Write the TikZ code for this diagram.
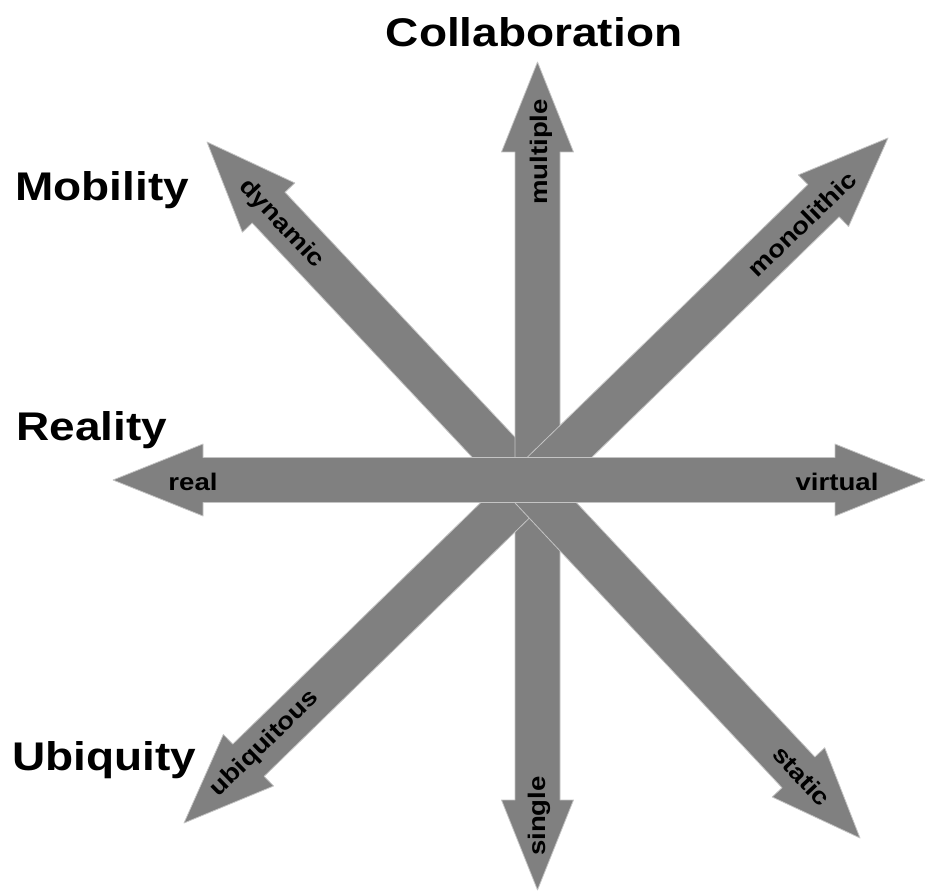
\documentclass[tikz,border=0pt]{standalone}
\usepackage{fontspec}
\setmainfont{Liberation Sans}
\usetikzlibrary{calc}
\definecolor{arrowgray}{HTML}{808080}
\definecolor{edgegray}{HTML}{C4C4C4}
\tikzset{
  blk/.style={fill=arrowgray, draw=edgegray, line width=0.8pt, line join=round},
  ttl/.style={font=\bfseries\fontsize{40}{44}\selectfont, inner sep=0pt, xscale=1.15},
  lbl/.style={font=\bfseries\fontsize{24}{26}\selectfont, inner sep=0pt},
}
% block arrow from tail #1 to tip #2
\newcommand\blockarr[2]{%
  \coordinate (bb) at ($(#2)!90pt!(#1)$);
  \draw[blk] ($(#1)!22.5pt!90:(#2)$) -- ($(bb)!22.5pt!90:(#2)$) -- ($(bb)!36pt!90:(#2)$)
    -- (#2) -- ($(bb)!36pt!-90:(#2)$) -- ($(bb)!22.5pt!-90:(#2)$) -- ($(#1)!22.5pt!-90:(#2)$) -- cycle;
}
\newcommand\lbltext[1]{\scalebox{1.15}[1]{#1}}
\begin{document}
\begin{tikzpicture}[x=1pt,y=-1pt]
\useasboundingbox (0,0) rectangle (925,893);
% centres and tips
\coordinate (c) at (537.5,480);
\coordinate (d) at (530,486);
\coordinate (tN) at (537.5,62);
\coordinate (tS) at (537.5,890);
\coordinate (tW) at (113,480);
\coordinate (tE) at (925,480);
\coordinate (tNW) at (207,142);
\coordinate (tNE) at (888,138);
\coordinate (tSW) at (184,823);
\coordinate (tSE) at (860,838);
% arrows, back to front
\blockarr{d}{tNW}
\blockarr{c}{tN}
\blockarr{d}{tNE}
\blockarr{c}{tS}
\blockarr{d}{tSW}
\blockarr{d}{tSE}
% horizontal double arrow
\coordinate (hl) at ($(tW)!90pt!(tE)$);
\coordinate (hr) at ($(tE)!90pt!(tW)$);
\draw[blk] (tW) -- ($(hl)!36pt!90:(tE)$) -- ($(hl)!22.5pt!90:(tE)$) -- ($(hr)!22.5pt!-90:(tW)$)
  -- ($(hr)!36pt!-90:(tW)$) -- (tE) -- ($(hr)!36pt!90:(tW)$) -- ($(hr)!22.5pt!90:(tW)$)
  -- ($(hl)!22.5pt!-90:(tE)$) -- ($(hl)!36pt!-90:(tE)$) -- cycle;
% arrow labels
\node[lbl] (real) at (193,482) {\lbltext{real}};
\node[lbl] (virtual) at (837,482) {\lbltext{virtual}};
\node[lbl, rotate=90] (multiple) at (541,152) {\lbltext{multiple}};
\node[lbl, rotate=90] (single) at (539,816) {\lbltext{single}};
\node[lbl, rotate=-46.8] (dynamic) at (281,224) {\lbltext{dynamic}};
\node[lbl, rotate=-46.8] (static) at (802,776) {\lbltext{static}};
\node[lbl, rotate=44.2] (monolithic) at (802,224) {\lbltext{monolithic}};
\node[lbl, rotate=44.2] (ubiquitous) at (265,744) {\lbltext{ubiquitous}};
% titles
\node[ttl, anchor=base] (collab) at (534,47) {Collaboration};
\node[ttl, anchor=base west] (mobility) at (15,201) {Mobility};
\node[ttl, anchor=base west] (reality) at (16,440) {Reality};
\node[ttl, anchor=base west] (ubiquity) at (12,770) {Ubiquity};
\end{tikzpicture}
\end{document}
